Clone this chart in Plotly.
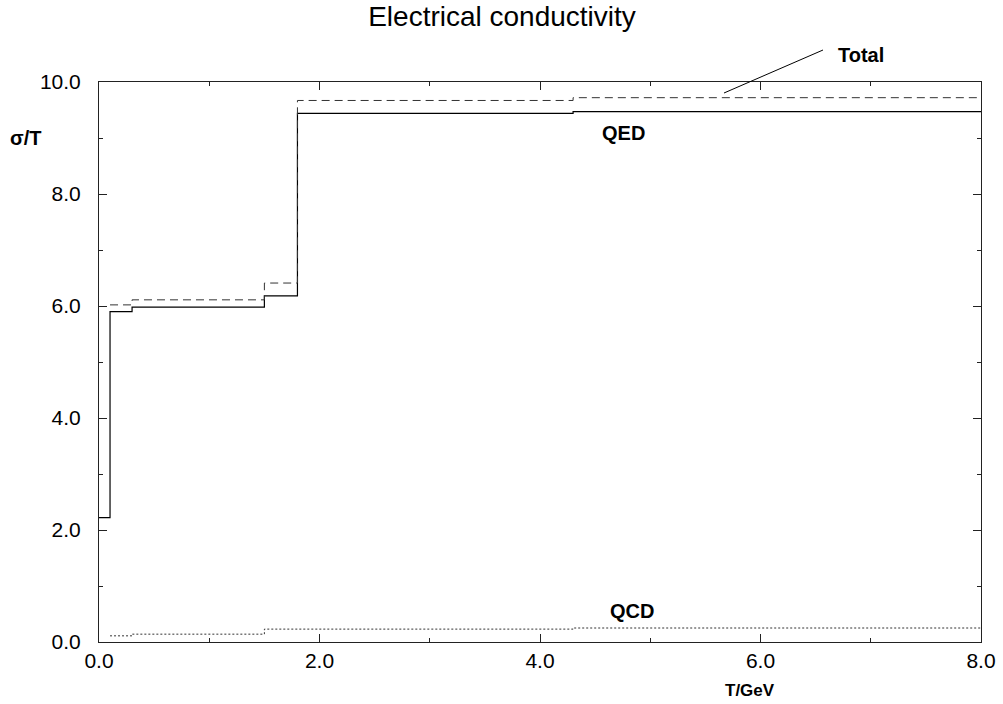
import plotly.graph_objects as go

# Data (step functions, value holds until next x)
qed_x = [0.0, 0.1, 0.3, 1.5, 1.8, 4.3, 8.0]
qed_y = [2.22, 5.90, 5.98, 6.18, 9.44, 9.47, 9.47]
total_x = [0.1, 0.3, 1.5, 1.8, 4.3, 8.0]
total_y = [6.02, 6.11, 6.41, 9.67, 9.72, 9.72]
qcd_x = [0.1, 0.3, 1.5, 4.3, 8.0]
qcd_y = [0.11, 0.14, 0.23, 0.25, 0.25]

x_ticks = [0, 2, 4, 6, 8]
y_ticks = [0, 2, 4, 6, 8, 10]

FONT = "Liberation Sans, Arial, Helvetica, sans-serif"

# plot area in window pixels: x 99..981, y 82..642 (body margin removed below)
W, H = 1003, 704
L, R, T, B = 99, 22, 82, 62
PX0, PX1, PY0, PY1 = 99, 981, 82, 642


def px_to_paper(px, py):
    return (px - PX0) / (PX1 - PX0), (PY1 - py) / (PY1 - PY0)


fig = go.Figure()
fig.add_trace(go.Scatter(x=qed_x, y=qed_y, mode="lines", line_shape="hv",
                         line=dict(color="black", width=1.2), name="QED"))
fig.add_trace(go.Scatter(x=total_x, y=total_y, mode="lines", line_shape="hv",
                         line=dict(color="#333333", width=1, dash="8px,5px"), name="Total"))
fig.add_trace(go.Scatter(x=qcd_x, y=qcd_y, mode="lines", line_shape="hv",
                         line=dict(color="#333333", width=1, dash="2px,2px"), name="QCD"))

axis_common = dict(showline=True, linecolor="#222222", linewidth=1, mirror="ticks",
                   ticks="inside", ticklen=8, tickcolor="#222222", tickwidth=1,
                   showgrid=False, zeroline=False, tickformat=".1f",
                   tickfont=dict(family=FONT, size=21, color="black"))

fig.update_xaxes(range=[0, 8], tickvals=x_ticks, ticklabelstandoff=0,
                 minor=dict(ticks="inside", ticklen=4, dtick=1, tickcolor="#222222", showgrid=False),
                 **axis_common)
fig.update_yaxes(range=[0, 10], tickvals=y_ticks, ticklabelstandoff=13,
                 minor=dict(ticks="inside", ticklen=4, dtick=1, tickcolor="#222222", showgrid=False),
                 **axis_common)

# leader line from the Total curve to its label
lx0, ly0 = px_to_paper(724, 93)
lx1, ly1 = px_to_paper(823, 50)
fig.add_shape(type="line", xref="paper", yref="paper", x0=lx0, y0=ly0, x1=lx1, y1=ly1,
              line=dict(color="black", width=1))

for text, (cx, cy), size in [("<b>Total</b>", (861, 55), 20),
                             ("<b>QED</b>", (623, 133), 20),
                             ("<b>QCD</b>", (632, 611), 20),
                             ("<b>σ/T</b>", (25, 138), 20),
                             ("<b>T/GeV</b>", (750, 690), 17)]:
    ax_, ay_ = px_to_paper(cx, cy)
    fig.add_annotation(x=ax_, y=ay_, xref="paper", yref="paper", text=text,
                       showarrow=False, xanchor="center", yanchor="middle",
                       font=dict(family=FONT, size=size, color="black"))

fig.update_layout(
    width=W, height=H,
    margin=dict(l=L, r=R, t=T, b=B, autoexpand=False),
    paper_bgcolor="white", plot_bgcolor="white",
    showlegend=False,
    title=dict(text="Electrical conductivity", x=502 / W, xref="container", xanchor="center",
               y=1 - 16 / H, yanchor="middle", yref="container",
               font=dict(family=FONT, size=28, color="black")),
)

fig.write_html("out.html", config={"displayModeBar": False},
               post_script="document.body.style.margin='0';")
